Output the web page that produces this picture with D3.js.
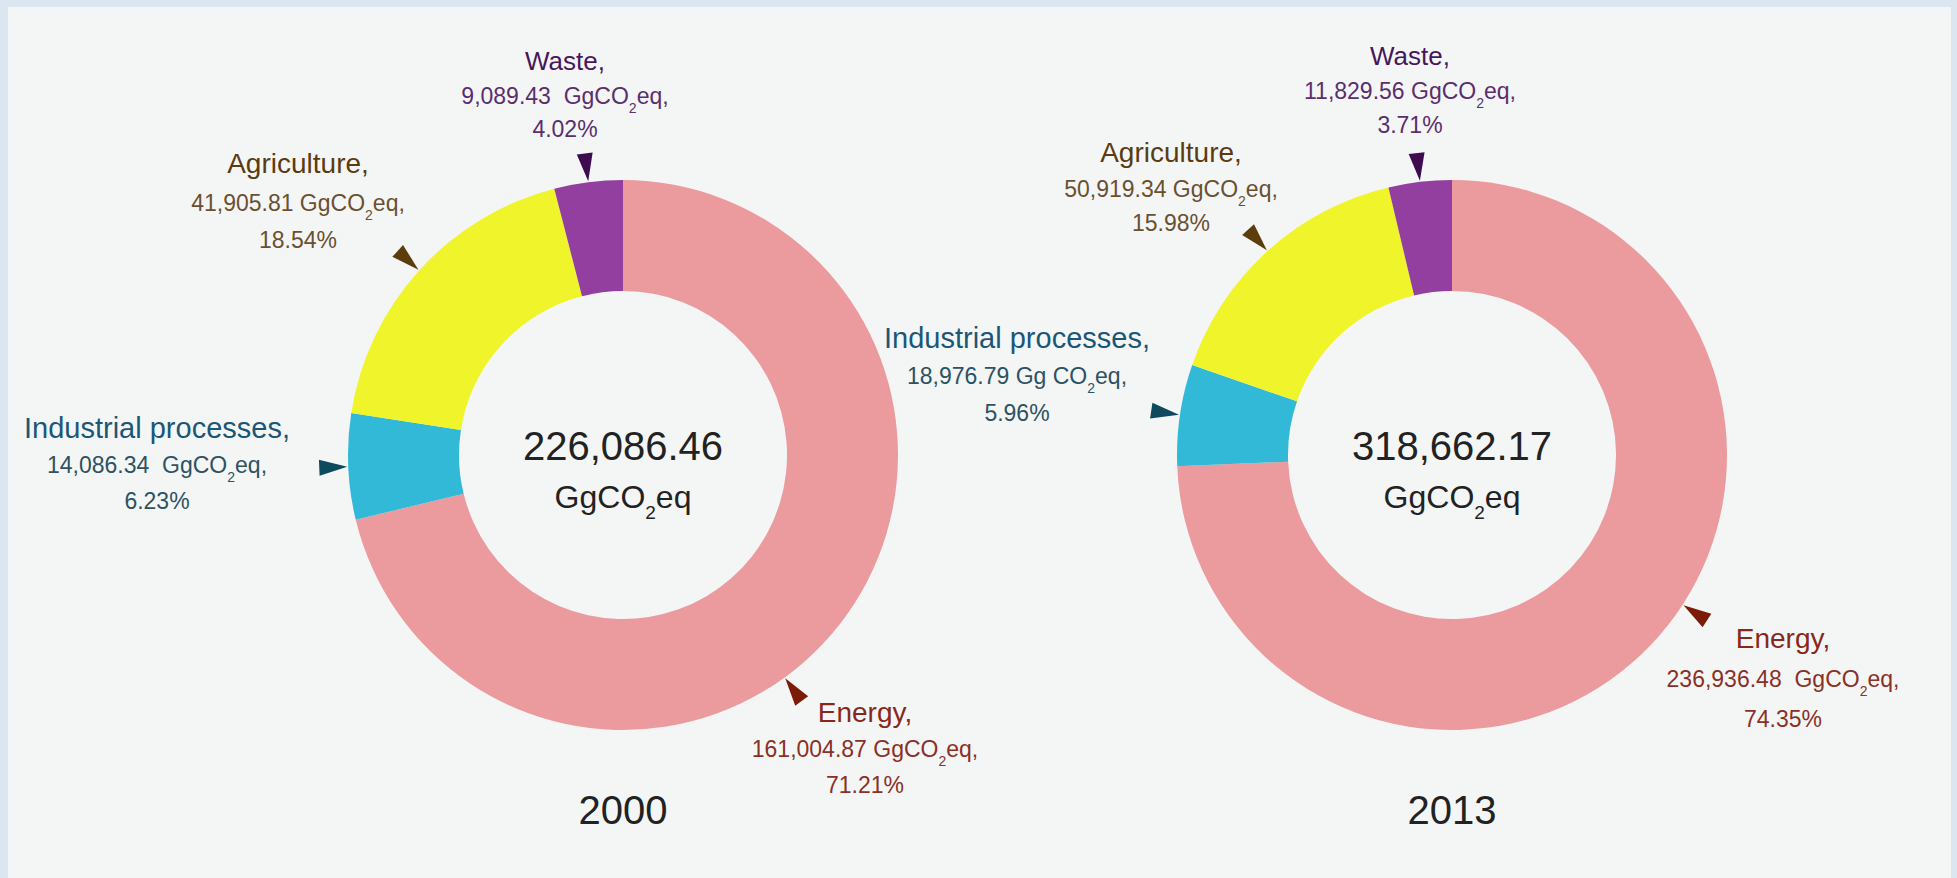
<!DOCTYPE html>
<html>
<head>
<meta charset="utf-8">
<script src="https://cdn.jsdelivr.net/npm/d3@7"></script>
<style>
  html, body { margin: 0; padding: 0; background: #dce6f1; }
  svg { display: block; }
  text { font-family: "Liberation Sans", Arial, sans-serif; white-space: pre; }
</style>
</head>
<body>
<script>
// ---- data ----
var sectors = ["Energy", "Industrial processes", "Agriculture", "Waste"];
var years = ["2000", "2013"];
var values2000 = [161004.87, 14086.34, 41905.81, 9089.43];
var values2013 = [236936.48, 18976.79, 50919.34, 11829.56];
var shares2000 = ["71.21%", "6.23%", "18.54%", "4.02%"];
var shares2013 = ["74.35%", "5.96%", "15.98%", "3.71%"];
var totals = ["226,086.46", "318,662.17"];
// unit text as written on each label (spacing differs a little in the original)
var units2000 = [" GgCO", "  GgCO", " GgCO", "  GgCO"];
var units2013 = ["  GgCO", " Gg CO", " GgCO", " GgCO"];

var sliceColors = ["#eb9b9e", "#31b9d7", "#f0f42a", "#923fa0"];
var headColors  = ["#87281b", "#1c5677", "#5b3c10", "#47165c"];
var textColors  = ["#8a3026", "#2d5262", "#6a5030", "#5b2e6e"];
var arrowColors = ["#7b1c08", "#0d4a5e", "#5c3d0c", "#3e0a50"];
var headSizes   = [28, 29, 28, 26];

var W = 1957, H = 878;
var outerR = 275, innerR = 164;
var centers = [[623, 455], [1452, 455]];

// label placement: [x, y of header, y of value line, y of share line]
var labelPos = [
  [[865, 722, 757, 793], [157, 438, 473, 509], [298, 173, 211, 248], [565, 70, 104, 137]],
  [[1783, 648, 687, 727], [1017, 348, 384, 421], [1171, 162, 197, 231], [1410, 65, 99, 133]]
];
// energy arrows are not at the slice middle in the original
var energyArrowDeg = [144, 123];

var body = d3.select("body");
var svg = body.append("svg").attr("width", W).attr("height", H);

svg.append("rect")
  .attr("x", 8).attr("y", 7)
  .attr("width", 1943).attr("height", H)
  .attr("fill", "#f4f6f6");

var pie = d3.pie().sort(null).value(function(d) { return d; });
var arc = d3.arc().innerRadius(innerR).outerRadius(outerR);

var allValues = [values2000, values2013];
var allShares = [shares2000, shares2013];
var allUnits = [units2000, units2013];
var fmt = d3.format(",.2f");

years.forEach(function(year, k) {
  var cx = centers[k][0], cy = centers[k][1];
  var g = svg.append("g").attr("transform", "translate(" + cx + "," + cy + ")");
  var arcs = pie(allValues[k]);

  g.selectAll("path.slice")
    .data(arcs)
    .enter()
    .append("path")
    .attr("class", "slice")
    .attr("d", arc)
    .attr("fill", function(d, i) { return sliceColors[i]; });

  // pointer triangles
  g.selectAll("path.arrow")
    .data(arcs)
    .enter()
    .append("path")
    .attr("class", "arrow")
    .attr("fill", function(d, i) { return arrowColors[i]; })
    .attr("d", function(d, i) {
      var a = (d.startAngle + d.endAngle) / 2;
      if (i == 0) { a = energyArrowDeg[k] * Math.PI / 180; }
      var ux = Math.sin(a), uy = -Math.cos(a);
      var px = -uy, py = ux;
      var tipR = outerR + 1, baseR = outerR + 29, hw = 8;
      var p = [
        [ux * tipR, uy * tipR],
        [ux * baseR + px * hw, uy * baseR + py * hw],
        [ux * baseR - px * hw, uy * baseR - py * hw]
      ];
      return "M" + p.join("L") + "Z";
    });

  // total in the middle
  g.append("text")
    .attr("text-anchor", "middle")
    .attr("y", 5)
    .attr("font-size", 40)
    .attr("fill", "#222")
    .text(totals[k]);

  var unit = g.append("text")
    .attr("text-anchor", "middle")
    .attr("y", 53)
    .attr("font-size", 32)
    .attr("fill", "#222");
  unit.append("tspan").text("GgCO");
  unit.append("tspan").attr("font-size", 19).attr("dy", 11).text("2");
  unit.append("tspan").attr("dy", -11).text("eq");

  // year under the chart
  svg.append("text")
    .attr("x", cx).attr("y", 824)
    .attr("text-anchor", "middle")
    .attr("font-size", 40)
    .attr("fill", "#222")
    .text(year);

  // slice labels
  sectors.forEach(function(name, i) {
    var pos = labelPos[k][i];
    var lab = svg.append("g");

    lab.append("text")
      .attr("x", pos[0]).attr("y", pos[1])
      .attr("text-anchor", "middle")
      .attr("font-size", headSizes[i])
      .attr("fill", headColors[i])
      .text(name + ",");

    var t = lab.append("text")
      .attr("x", pos[0]).attr("y", pos[2])
      .attr("text-anchor", "middle")
      .attr("font-size", 23)
      .attr("fill", textColors[i]);
    t.append("tspan").text(fmt(allValues[k][i]) + allUnits[k][i]);
    t.append("tspan").attr("font-size", 14).attr("dy", 9).text("2");
    t.append("tspan").attr("dy", -9).text("eq,");

    lab.append("text")
      .attr("x", pos[0]).attr("y", pos[3])
      .attr("text-anchor", "middle")
      .attr("font-size", 23)
      .attr("fill", textColors[i])
      .text(allShares[k][i]);
  });
});
</script>
</body>
</html>
